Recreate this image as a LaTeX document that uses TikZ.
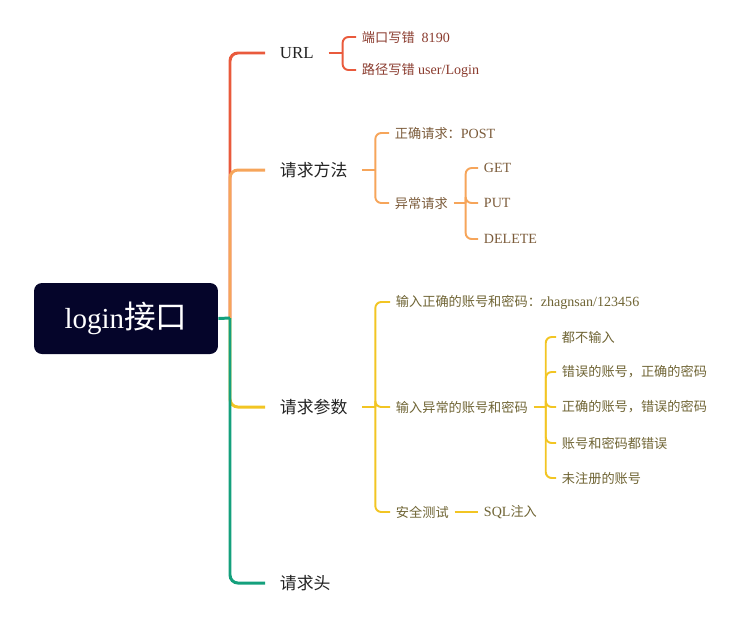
\documentclass[tikz,border=0pt]{standalone}
\usepackage{fontspec}
\setmainfont{Liberation Serif}
\newfontfamily\cjk{Noto Sans CJK SC}
\newcommand\zhs[1]{{\cjk\fontsize{7.5}{10}\selectfont #1}}
\usetikzlibrary{positioning}

\definecolor{rootfill}{HTML}{05052A}
\definecolor{mmred}{HTML}{E95A3C}
\definecolor{mmorange}{HTML}{F6A55A}
\definecolor{mmyellow}{HTML}{F2C523}
\definecolor{mmgreen}{HTML}{14A07C}
\definecolor{maintext}{HTML}{222222}
\definecolor{urltext}{HTML}{8A3B2E}
\definecolor{methodtext}{HTML}{7B5B3A}
\definecolor{paramtext}{HTML}{6F6434}

\begin{document}
\begin{tikzpicture}[
    x=0.02cm, y=-0.02cm,
    rootbox/.style={rectangle, rounded corners=4.5pt, fill=rootfill, text=white, minimum width=3.68cm, minimum height=1.42cm, font=\fontsize{16.5}{20}\selectfont},
    topic/.style={anchor=west, inner sep=0pt, outer xsep=8.5pt, text=maintext, font=\fontsize{9.6}{11}\selectfont},
    leaf/.style={anchor=west, inner sep=0pt, outer xsep=3.4pt, font=\fontsize{8}{10}\selectfont},
    mainline/.style={line width=1.7pt, rounded corners=4.5pt},
    subline/.style={line width=1.1pt, rounded corners=3.4pt}
  ]
    \useasboundingbox (0,0) rectangle (750,633);

    \node[rootbox] (login) at (126,318.5) {login{\cjk\fontsize{18}{20}\selectfont 接口}};
    \coordinate (trunk) at (230,318);

    \node[topic] (url) at (265,53) {URL};
    \node[topic] (method) at (265,170) {{\cjk 请求方法}};
    \node[topic] (param) at (265,407) {{\cjk 请求参数}};
    \node[topic] (header) at (265,583) {{\cjk 请求头}};

    % URL
    \node[leaf, text=urltext] (port) at (356,37) {\zhs{端口写错}\ \ 8190};
    \node[leaf, text=urltext] (path) at (356,70) {\zhs{路径写错} user/Login};

    % 请求方法
    \node[leaf, text=methodtext] (post) at (389,133) {\zhs{正确请求：}POST};
    \node[leaf, text=methodtext] (badreq) at (389,203) {\zhs{异常请求}};
    \node[leaf, text=methodtext] (get) at (478,168) {GET};
    \node[leaf, text=methodtext] (put) at (478,203) {PUT};
    \node[leaf, text=methodtext] (delete) at (478,239) {DELETE};

    % 请求参数
    \node[leaf, text=paramtext] (okinput) at (390,302) {\zhs{输入正确的账号和密码：}zhagnsan/123456};
    \node[leaf, text=paramtext] (badinput) at (390,407) {\zhs{输入异常的账号和密码}};
    \node[leaf, text=paramtext] (safety) at (390,512) {\zhs{安全测试}};
    \node[leaf, text=paramtext] (empty) at (556,337) {\zhs{都不输入}};
    \node[leaf, text=paramtext] (badacc) at (556,372) {\zhs{错误的账号，正确的密码}};
    \node[leaf, text=paramtext] (badpwd) at (556,407) {\zhs{正确的账号，错误的密码}};
    \node[leaf, text=paramtext] (bothbad) at (556,443) {\zhs{账号和密码都错误}};
    \node[leaf, text=paramtext] (unreg) at (556,478) {\zhs{未注册的账号}};
    \node[leaf, text=paramtext] (sql) at (478,512) {SQL\zhs{注入}};

    % main branches
    \draw[mainline, mmred] (trunk) |- (url.west);
    \draw[mainline, mmorange] (trunk) |- (method.west);
    \draw[mainline, mmyellow] (trunk) |- (param.west);
    \draw[mainline, mmgreen] (trunk) |- (header.west);
    \draw[mainline, mmgreen] (login.east) -- (trunk);

    % sub branches
    \draw[subline, mmred] (url.east) -- ++(14,0) coordinate (urlj);
    \foreach \c in {port,path}
      \draw[subline, mmred] (urlj) |- (\c.west);

    \draw[subline, mmorange] (method.east) -- ++(13,0) coordinate (methodj);
    \foreach \c in {post,badreq}
      \draw[subline, mmorange] (methodj) |- (\c.west);
    \draw[subline, mmorange] (badreq.east) -- ++(12,0) coordinate (badreqj);
    \foreach \c in {get,put,delete}
      \draw[subline, mmorange] (badreqj) |- (\c.west);

    \draw[subline, mmyellow] (param.east) -- ++(13,0) coordinate (paramj);
    \foreach \c in {okinput,badinput,safety}
      \draw[subline, mmyellow] (paramj) |- (\c.west);
    \draw[subline, mmyellow] (badinput.east) -- ++(12,0) coordinate (badinputj);
    \foreach \c in {empty,badacc,badpwd,bothbad,unreg}
      \draw[subline, mmyellow] (badinputj) |- (\c.west);
    \draw[subline, mmyellow] (safety.east) -- (sql.west);
\end{tikzpicture}
\end{document}
